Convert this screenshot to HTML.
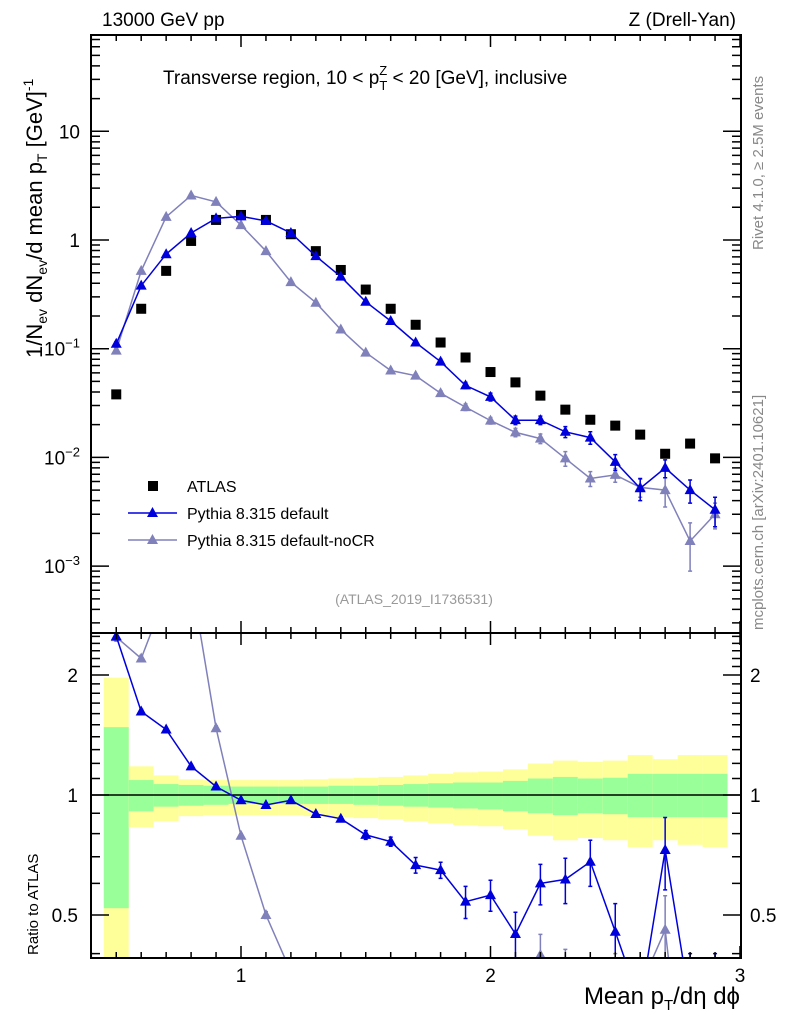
<!DOCTYPE html>
<html><head><meta charset="utf-8"><style>
html,body{margin:0;padding:0;background:#fff;overflow:hidden;width:786px;height:1024px;}
svg{display:block;font-family:"Liberation Sans",sans-serif;}
</style></head><body>
<svg id="chart" width="786" height="1024" viewBox="0 0 786 1024" xmlns="http://www.w3.org/2000/svg">
<defs>
<clipPath id="clipMain"><rect x="91" y="35" width="650" height="598"/></clipPath>
<clipPath id="clipRatio"><rect x="91" y="633" width="650" height="325"/></clipPath>
</defs>
<g id="bands" clip-path="url(#clipRatio)"></g>
<g id="marksMain" clip-path="url(#clipMain)"></g>
<g id="marksRatio" clip-path="url(#clipRatio)"></g>
<g id="axes"></g>
<text x="102" y="26" font-size="19">13000 GeV pp</text>
<text x="736" y="26" font-size="19" text-anchor="end">Z (Drell-Yan)</text>
<text x="163" y="84" font-size="19">Transverse region, 10 &lt; p<tspan font-size="13" dy="6">T</tspan><tspan font-size="13" dx="-8" dy="-15">Z</tspan><tspan dy="9"> &lt; 20 [GeV], inclusive</tspan></text>
<text transform="translate(42,358) rotate(-90)" font-size="22">1/N<tspan font-size="14" dy="5">ev</tspan><tspan dy="-5"> dN</tspan><tspan font-size="14" dy="5">ev</tspan><tspan dy="-5">/d mean p</tspan><tspan font-size="14" dy="5">T</tspan><tspan dy="-5"> [GeV]</tspan><tspan font-size="14" dy="-9">-1</tspan></text>
<text transform="translate(38,955) rotate(-90)" font-size="15">Ratio to ATLAS</text>
<text x="740" y="1004" font-size="24" text-anchor="end">Mean p<tspan font-size="15" dy="6">T</tspan><tspan dy="-6">/dη dϕ</tspan></text>
<text transform="translate(763,250) rotate(-90)" font-size="15" fill="#888">Rivet 4.1.0, ≥ 2.5M events</text>
<text transform="translate(763,630) rotate(-90)" font-size="15" fill="#888">mcplots.cern.ch [arXiv:2401.10621]</text>
<text x="414" y="604" font-size="14" fill="#999" text-anchor="middle">(ATLAS_2019_I1736531)</text>
<g>
<rect x="148" y="481" width="10" height="10" fill="#000"/>
<text x="187" y="492" font-size="16">ATLAS</text>
<line x1="128" y1="513" x2="177" y2="513" stroke="#0000dd" stroke-width="1.5"/>
<path d="M152.5,507 L158,517 L147,517 Z" fill="#0000dd"/>
<text x="187" y="519" font-size="16">Pythia 8.315 default</text>
<line x1="128" y1="540" x2="177" y2="540" stroke="#8080bb" stroke-width="1.5"/>
<path d="M152.5,534 L158,544 L147,544 Z" fill="#8080bb"/>
<text x="187" y="546" font-size="16">Pythia 8.315 default-noCR</text>
</g>
</svg>
<script>
const xVals = [0.5,0.6,0.7,0.8,0.9,1.0,1.1,1.2,1.3,1.4,1.5,1.6,1.7,1.8,1.9,2.0,2.1,2.2,2.3,2.4,2.5,2.6,2.7,2.8,2.9];
const atlasVals = [0.038,0.233,0.52,0.98,1.53,1.70,1.53,1.13,0.79,0.53,0.35,0.233,0.166,0.114,0.083,0.061,0.049,0.037,0.0275,0.0222,0.0196,0.0162,0.0108,0.0134,0.0098];
const defaultVals = [0.111,0.38,0.74,1.16,1.58,1.65,1.5,1.16,0.71,0.46,0.27,0.18,0.114,0.076,0.046,0.036,0.022,0.022,0.0172,0.0152,0.0091,0.0052,0.008,0.005,0.0033];
const defaultErr = [0.005,0.01,0.01,0.02,0.02,0.02,0.02,0.02,0.01,0.01,0.008,0.006,0.005,0.004,0.003,0.003,0.002,0.002,0.002,0.002,0.0015,0.0012,0.0015,0.0012,0.001];
const nocrVals = [0.096,0.52,1.63,2.57,2.24,1.37,0.79,0.41,0.265,0.15,0.092,0.063,0.0565,0.039,0.029,0.0218,0.017,0.0149,0.0098,0.0064,0.0069,0.0053,0.005,0.0017,0.003];
const nocrErr = [0.005,0.01,0.02,0.03,0.03,0.02,0.01,0.006,0.004,0.003,0.002,0.002,0.002,0.002,0.002,0.0015,0.0015,0.0015,0.0015,0.001,0.001,0.001,0.0015,0.0008,0.0008];
const defaultRatio = [2.5,1.62,1.46,1.18,1.05,0.97,0.944,0.97,0.896,0.872,0.794,0.764,0.667,0.648,0.54,0.561,0.448,0.6,0.614,0.68,0.454,0.3,0.728,0.3,0.3];
const defaultRatioErr = [0.05,0.02,0.01,0.01,0.01,0.01,0.01,0.01,0.01,0.01,0.02,0.02,0.03,0.03,0.05,0.05,0.06,0.07,0.08,0.09,0.08,0.08,0.15,0.1,0.1];
const nocrRatio = [2.49,2.2,3.2,3.5,1.47,0.79,0.5,0.36,0.33,0.28,0.26,0.27,0.34,0.34,0.35,0.36,0.35,0.397,0.36,0.29,0.35,0.33,0.459,0.13,0.3];
const nocrRatioErr = [0.06,0.04,0.03,0.03,0.02,0.01,0.01,0.01,0.01,0.01,0.01,0.01,0.02,0.02,0.02,0.03,0.03,0.05,0.05,0.05,0.05,0.05,0.1,0.05,0.05];
const greenUp = [1.48,1.09,1.065,1.06,1.055,1.05,1.05,1.05,1.05,1.055,1.055,1.06,1.065,1.07,1.075,1.075,1.085,1.1,1.11,1.1,1.105,1.13,1.13,1.13,1.13];
const greenDn = [0.52,0.91,0.935,0.94,0.945,0.95,0.95,0.95,0.95,0.95,0.945,0.94,0.935,0.93,0.925,0.92,0.91,0.9,0.89,0.9,0.895,0.88,0.88,0.88,0.88];
const yellowUp = [1.97,1.18,1.12,1.095,1.09,1.09,1.09,1.09,1.095,1.1,1.105,1.11,1.12,1.13,1.14,1.145,1.16,1.2,1.22,1.21,1.22,1.26,1.23,1.26,1.26];
const yellowDn = [0.3,0.83,0.86,0.885,0.89,0.89,0.89,0.89,0.885,0.88,0.875,0.87,0.86,0.85,0.84,0.835,0.82,0.79,0.77,0.78,0.77,0.74,0.77,0.75,0.74];
const yTickVals = [0.001,0.01,0.1,1,10];
const yTickLabels = ["10^-3","10^-2","10^-1","1","10"];
const xTickVals = [1,2,3];
const rTickVals = [0.5,1,2];

const NS="http://www.w3.org/2000/svg";
const L=91,R=741,MT=35,MB=633,RB=958;
function X(v){return 241+(v-1)*249.5;}
function Y(v){return 240-Math.log10(v)*108.7;}
function YR(v){return 795-Math.log2(v)*120;}
function mk(tag,attrs,parent){const e=document.createElementNS(NS,tag);for(const k in attrs)e.setAttribute(k,attrs[k]);parent.appendChild(e);return e;}
const gB=document.getElementById('bands'),gM=document.getElementById('marksMain'),gR=document.getElementById('marksRatio'),gA=document.getElementById('axes');

xVals.forEach((x,i)=>{
  const x0=X(x-0.05),x1=X(x+0.05);
  const y=mk('rect',{x:x0,y:YR(yellowUp[i]),width:x1-x0,height:YR(yellowDn[i])-YR(yellowUp[i]),fill:'#ffff99'},gB);
  
  
  const g=mk('rect',{x:x0,y:YR(greenUp[i]),width:x1-x0,height:YR(greenDn[i])-YR(greenUp[i]),fill:'#99ff99'},gB);
  
  
});
const ref=mk('line',{x1:L,x2:R,y1:YR(1),y2:YR(1),stroke:'#000','stroke-width':1.5},gB);



function series(parent,vals,errs,yf,color,name){
  const pts=xVals.map((x,i)=>X(x).toFixed(1)+','+yf(vals[i]).toFixed(1)).join(' ');
  const pl=mk('polyline',{points:pts,fill:'none',stroke:color,'stroke-width':1.5},parent);
  
  
  xVals.forEach((x,i)=>{
    const cx=X(x),cy=yf(vals[i]);
    const lo=Math.max(vals[i]-errs[i],1e-6),hi=vals[i]+errs[i];
    const eb=mk('path',{d:`M${cx},${yf(hi)}V${yf(lo)}M${cx-2},${yf(hi)}h4M${cx-2},${yf(lo)}h4`,stroke:color,'stroke-width':1.5,fill:'none'},parent);
    
    
    const t=mk('path',{d:`M${cx},${cy-6}L${cx+5.5},${cy+4}L${cx-5.5},${cy+4}Z`,fill:color},parent);
    
    
  });
}
xVals.forEach((x,i)=>{
  const r=mk('rect',{x:X(x)-5,y:Y(atlasVals[i])-5,width:10,height:10,fill:'#000'},gM);
  
  
});
series(gM,nocrVals,nocrErr,Y,'#8080bb','nocr');
series(gM,defaultVals,defaultErr,Y,'#0000dd','default');
series(gR,nocrRatio,nocrRatioErr,YR,'#8080bb','nocr-ratio');
series(gR,defaultRatio,defaultRatioErr,YR,'#0000dd','default-ratio');

const f1=mk('rect',{x:L,y:MT,width:R-L,height:MB-MT,fill:'none',stroke:'#000','stroke-width':2},gA);


const f2=mk('rect',{x:L,y:MB,width:R-L,height:RB-MB,fill:'none',stroke:'#000','stroke-width':2},gA);


let d='';
for(let k=4;k<=30;k++){const v=k/10,x=X(v);if(x<L||x>R)continue;const big=k%10===0?12:6;
  d+=`M${x},${MB}v-${big}M${x},${MT}v${big}M${x},${RB}v-${big}M${x},${MB}v${big}`;}
for(let e=-4;e<=1;e++)for(let m=1;m<=9;m++){const v=m*Math.pow(10,e),y=Y(v);if(y<MT||y>MB)continue;const len=m===1?18:9;
  d+=`M${L},${y}h${len}M${R},${y}h-${len}`;}
for(let v=0.4;v<=2.55;v+=0.1){const y=YR(v);if(y<MB||y>RB)continue;const big=[0.5,1,2].some(t=>Math.abs(t-v)<1e-6)?18:9;
  d+=`M${L},${y}h${big}M${R},${y}h-${big}`;}
const tk=mk('path',{d:d,stroke:'#000','stroke-width':1.5,fill:'none'},gA);



xTickVals.forEach(v=>{const t=mk('text',{x:X(v),y:982,'font-size':19,'text-anchor':'middle'},gA);t.textContent=String(v);
  
  });
yTickVals.forEach((v,i)=>{const lab=yTickLabels[i];const t=mk('text',{x:80,y:Y(v)+7,'font-size':19,'text-anchor':'end'},gA);
  
  
  if(lab.includes('^')){const [b,e]=lab.split('^');t.textContent=b;const s=mk('tspan',{'font-size':13,dy:-8},t);s.textContent=e.replace('-','−');}
  else t.textContent=lab;});
rTickVals.forEach(v=>{const lab=v===0.5?'0.5':String(v);
  const t=mk('text',{x:78,y:YR(v)+7,'font-size':19,'text-anchor':'end'},gA);t.textContent=lab;
  
  
  const t2=mk('text',{x:750,y:YR(v)+7,'font-size':19},gA);t2.textContent=lab;
  
  });
</script>
</body></html>
